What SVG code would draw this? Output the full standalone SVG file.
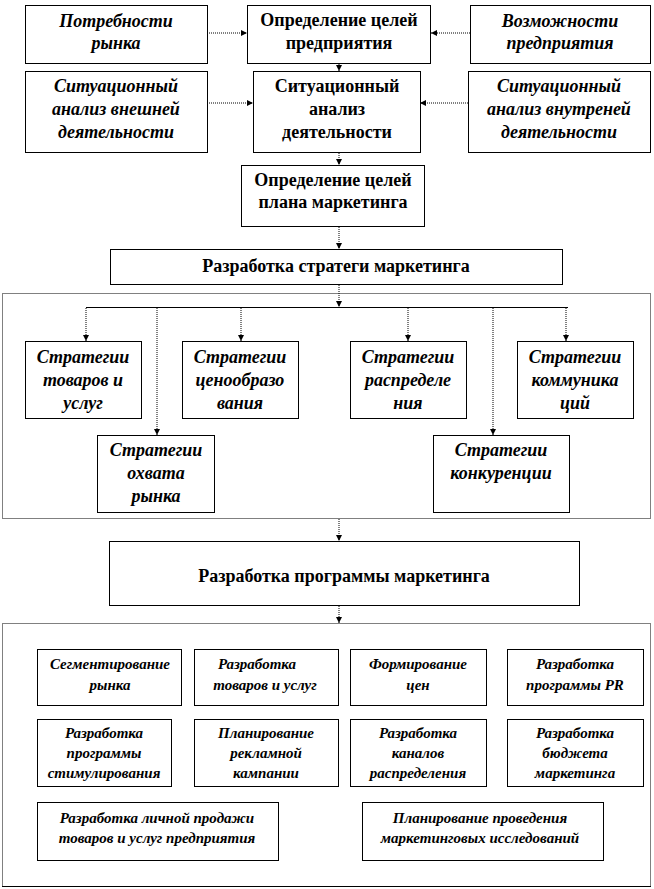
<svg xmlns="http://www.w3.org/2000/svg" width="654" height="889" viewBox="0 0 654 889" font-family="'Liberation Serif', 'Times New Roman', serif">
<defs>
<marker id="ar" markerWidth="6" markerHeight="6" refX="6" refY="3" orient="auto" markerUnits="userSpaceOnUse">
<path d="M0,0 L6,3 L0,6 z" fill="#000"/>
</marker>
</defs>
<style>
.box{fill:#fff;stroke:#000;stroke-width:1}
.cont{fill:none;stroke:#000;stroke-width:1;stroke-dasharray:1,1}
.con{fill:none;stroke:#000;stroke-width:1;stroke-dasharray:1,1}
text{font-family:'Liberation Serif','Times New Roman',serif}
.t{font-weight:bold;font-size:18px;text-anchor:middle;fill:#000}
.i{font-style:italic}
.s{font-size:15px}
</style>
<rect width="654" height="889" fill="#fff"/>
<g id="containers">
<rect class="cont" x="2.5" y="293.5" width="648" height="225"/>
<rect class="cont" x="2.5" y="623.5" width="648" height="263"/>
<line x1="2" y1="886.5" x2="651" y2="886.5" stroke="#000"/>
</g>
<g id="connectors">
<line class="con" x1="209" y1="33" x2="247" y2="33" marker-end="url(#ar)"/>
<line class="con" x1="470" y1="33" x2="431" y2="33" marker-end="url(#ar)"/>
<line class="con" x1="339" y1="64" x2="339" y2="71" marker-end="url(#ar)"/>
<line class="con" x1="207" y1="103" x2="253" y2="103" marker-end="url(#ar)"/>
<line class="con" x1="468" y1="103" x2="420" y2="103" marker-end="url(#ar)"/>
<line class="con" x1="339" y1="153" x2="339" y2="165" marker-end="url(#ar)"/>
<line class="con" x1="339" y1="227" x2="339" y2="249" marker-end="url(#ar)"/>
<line class="con" x1="339" y1="285" x2="339" y2="307" marker-end="url(#ar)"/>
<line x1="86" y1="307.5" x2="568" y2="307.5" stroke="#000"/>
<line class="con" x1="86" y1="308" x2="86" y2="341" marker-end="url(#ar)"/>
<line class="con" x1="157" y1="308" x2="157" y2="435" marker-end="url(#ar)"/>
<line class="con" x1="241" y1="308" x2="241" y2="341" marker-end="url(#ar)"/>
<line class="con" x1="408" y1="308" x2="408" y2="341" marker-end="url(#ar)"/>
<line class="con" x1="493" y1="308" x2="493" y2="435" marker-end="url(#ar)"/>
<line class="con" x1="566" y1="308" x2="566" y2="341" marker-end="url(#ar)"/>
<line class="con" x1="339" y1="519" x2="339" y2="541" marker-end="url(#ar)"/>
<line class="con" x1="339" y1="606" x2="339" y2="623" marker-end="url(#ar)"/>
</g>
<g id="n1"><rect class="box" x="25.5" y="5.5" width="182" height="58"/><text class="t i" x="116" y="27">Потребности</text><text class="t i" x="116" y="49">рынка</text></g>
<g id="n2"><rect class="box" x="247.5" y="5.5" width="183" height="58"/><text class="t" x="339" y="26">Определение целей</text><text class="t" x="339" y="49">предприятия</text></g>
<g id="n3"><rect class="box" x="470.5" y="5.5" width="180" height="58"/><text class="t i" x="560" y="27">Возможности</text><text class="t i" x="560" y="49">предприятия</text></g>
<g id="n4"><rect class="box" x="25.5" y="71.5" width="182" height="81"/><text class="t i" x="116" y="92">Ситуационный</text><text class="t i" x="116" y="115">анализ внешней</text><text class="t i" x="116" y="138">деятельности</text></g>
<g id="n5"><rect class="box" x="253.5" y="71.5" width="167" height="81"/><text class="t" x="337" y="92">Ситуационный</text><text class="t" x="337" y="115">анализ</text><text class="t" x="337" y="138">деятельности</text></g>
<g id="n6"><rect class="box" x="468.5" y="71.5" width="182" height="81"/><text class="t i" x="559" y="92">Ситуационный</text><text class="t i" x="559" y="115">анализ внутреней</text><text class="t i" x="559" y="138">деятельности</text></g>
<g id="n7"><rect class="box" x="241.5" y="165.5" width="183" height="61"/><text class="t" x="333" y="186">Определение целей</text><text class="t" x="333" y="208">плана маркетинга</text></g>
<g id="n8"><rect class="box" x="110.5" y="249.5" width="452" height="35"/><text class="t" x="336" y="272">Разработка стратеги маркетинга</text></g>
<g id="s1"><rect class="box" x="25.5" y="341.5" width="116" height="77"/><text class="t i" x="83" y="363">Стратегии</text><text class="t i" x="83" y="386">товаров и</text><text class="t i" x="83" y="409">услуг</text></g>
<g id="s2"><rect class="box" x="182.5" y="341.5" width="116" height="77"/><text class="t i" x="240" y="363">Стратегии</text><text class="t i" x="240" y="386">ценообразо</text><text class="t i" x="240" y="409">вания</text></g>
<g id="s3"><rect class="box" x="350.5" y="341.5" width="116" height="77"/><text class="t i" x="408" y="363">Стратегии</text><text class="t i" x="408" y="386">распределе</text><text class="t i" x="408" y="409">ния</text></g>
<g id="s4"><rect class="box" x="517.5" y="341.5" width="116" height="77"/><text class="t i" x="575" y="363">Стратегии</text><text class="t i" x="575" y="386">коммуника</text><text class="t i" x="575" y="409">ций</text></g>
<g id="s5"><rect class="box" x="97.5" y="435.5" width="117" height="77"/><text class="t i" x="156" y="456">Стратегии</text><text class="t i" x="156" y="479">охвата</text><text class="t i" x="156" y="502">рынка</text></g>
<g id="s6"><rect class="box" x="433.5" y="435.5" width="136" height="77"/><text class="t i" x="501" y="456">Стратегии</text><text class="t i" x="501" y="479">конкуренции</text></g>
<g id="n9"><rect class="box" x="109.5" y="541.5" width="470" height="64"/><text class="t" x="344" y="582">Разработка программы маркетинга</text></g>
<g id="p1"><rect class="box" x="37.5" y="649.5" width="144" height="56"/><text class="t i s" x="110" y="669">Сегментирование</text><text class="t i s" x="110" y="690">рынка</text></g>
<g id="p2"><rect class="box" x="194.5" y="649.5" width="144" height="56"/><text class="t i s" x="257" y="669">Разработка</text><text class="t i s" x="265" y="690">товаров и услуг</text></g>
<g id="p3"><rect class="box" x="350.5" y="649.5" width="136" height="56"/><text class="t i s" x="418" y="669">Формирование</text><text class="t i s" x="418" y="690">цен</text></g>
<g id="p4"><rect class="box" x="507.5" y="649.5" width="136" height="56"/><text class="t i s" x="575" y="669">Разработка</text><text class="t i s" x="575" y="690">программы PR</text></g>
<g id="p5"><rect class="box" x="37.5" y="719.5" width="134" height="67"/><text class="t i s" x="104" y="738">Разработка</text><text class="t i s" x="104" y="758">программы</text><text class="t i s" x="104" y="778">стимулирования</text></g>
<g id="p6"><rect class="box" x="194.5" y="719.5" width="144" height="67"/><text class="t i s" x="266" y="738">Планирование</text><text class="t i s" x="266" y="758">рекламной</text><text class="t i s" x="266" y="778">кампании</text></g>
<g id="p7"><rect class="box" x="350.5" y="719.5" width="136" height="67"/><text class="t i s" x="418" y="738">Разработка</text><text class="t i s" x="418" y="758">каналов</text><text class="t i s" x="418" y="778">распределения</text></g>
<g id="p8"><rect class="box" x="507.5" y="719.5" width="136" height="67"/><text class="t i s" x="575" y="738">Разработка</text><text class="t i s" x="575" y="758">бюджета</text><text class="t i s" x="575" y="778">маркетинга</text></g>
<g id="p9"><rect class="box" x="37.5" y="802.5" width="241" height="58"/><text class="t i s" x="157" y="823">Разработка личной продажи</text><text class="t i s" x="157" y="843">товаров и услуг предприятия</text></g>
<g id="p10"><rect class="box" x="362.5" y="802.5" width="241" height="58"/><text class="t i s" x="480" y="823">Планирование проведения</text><text class="t i s" x="480" y="843">маркетинговых исследований</text></g>
</svg>
